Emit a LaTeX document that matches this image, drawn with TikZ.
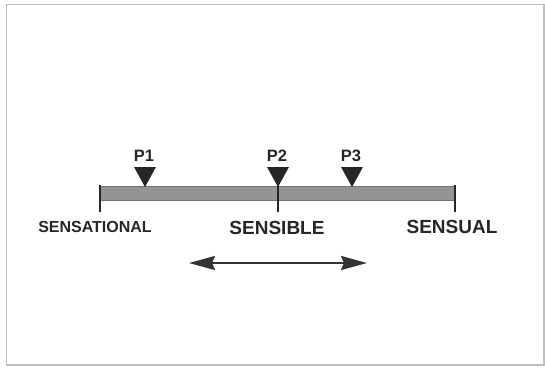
\documentclass[tikz,border=0pt]{standalone}
\usepackage{fontspec}
\setmainfont{Liberation Sans}
\usepackage{tikz}
\usetikzlibrary{arrows.meta}

\begin{document}
\begin{tikzpicture}[x=1pt, y=-1pt,
  every node/.style = {font=\bfseries, text=black!85, inner sep=0pt},
  pole/.style = {font=\fontsize{19}{21}\selectfont\bfseries},
  smallpole/.style = {font=\fontsize{16}{18}\selectfont\bfseries},
  plabel/.style = {font=\fontsize{16.5}{18}\selectfont\bfseries},
  tick/.style = {line width=2.2pt, draw=black!85},
  marker/.style = {fill=black!85}]
  \useasboundingbox (0,0) rectangle (545,367);
  \draw[black!25, line width=1.2pt] (6.5,4.5) rectangle (544,365);
  % the scale
  \fill[black!42, draw=black!55, line width=0.6pt] (100,186) rectangle (455,200);
  \foreach \x/\name in {100/left, 278/mid, 455/right} {
    \coordinate (\name top) at (\x,185);
    \coordinate (\name bot) at (\x,212);
    \draw[tick] (\name top) -- (\name bot);
  }
  % positions
  \foreach \x/\name in {145/P1, 278/P2, 352/P3} {
    \fill[marker] (\x-11,167) -- (\x+11,167) -- (\x,187) -- cycle;
    \node[plabel] (\name) at (\x-1,156) {\name};
  }
  \node[smallpole] (sensational) at (95,227) {SENSATIONAL};
  \node[pole] (sensible) at (277,228) {SENSIBLE};
  \node[pole] (sensual) at (452,227) {SENSUAL};
  % range
  \coordinate (rangeL) at (189,263);
  \coordinate (rangeR) at (367,263);
  \draw[black!80, line width=2.4pt,
    {Stealth[length=26pt, width=14pt, inset=3pt]}-{Stealth[length=26pt, width=14pt, inset=3pt]}]
    (rangeL) -- (rangeR);
\end{tikzpicture}
\end{document}
